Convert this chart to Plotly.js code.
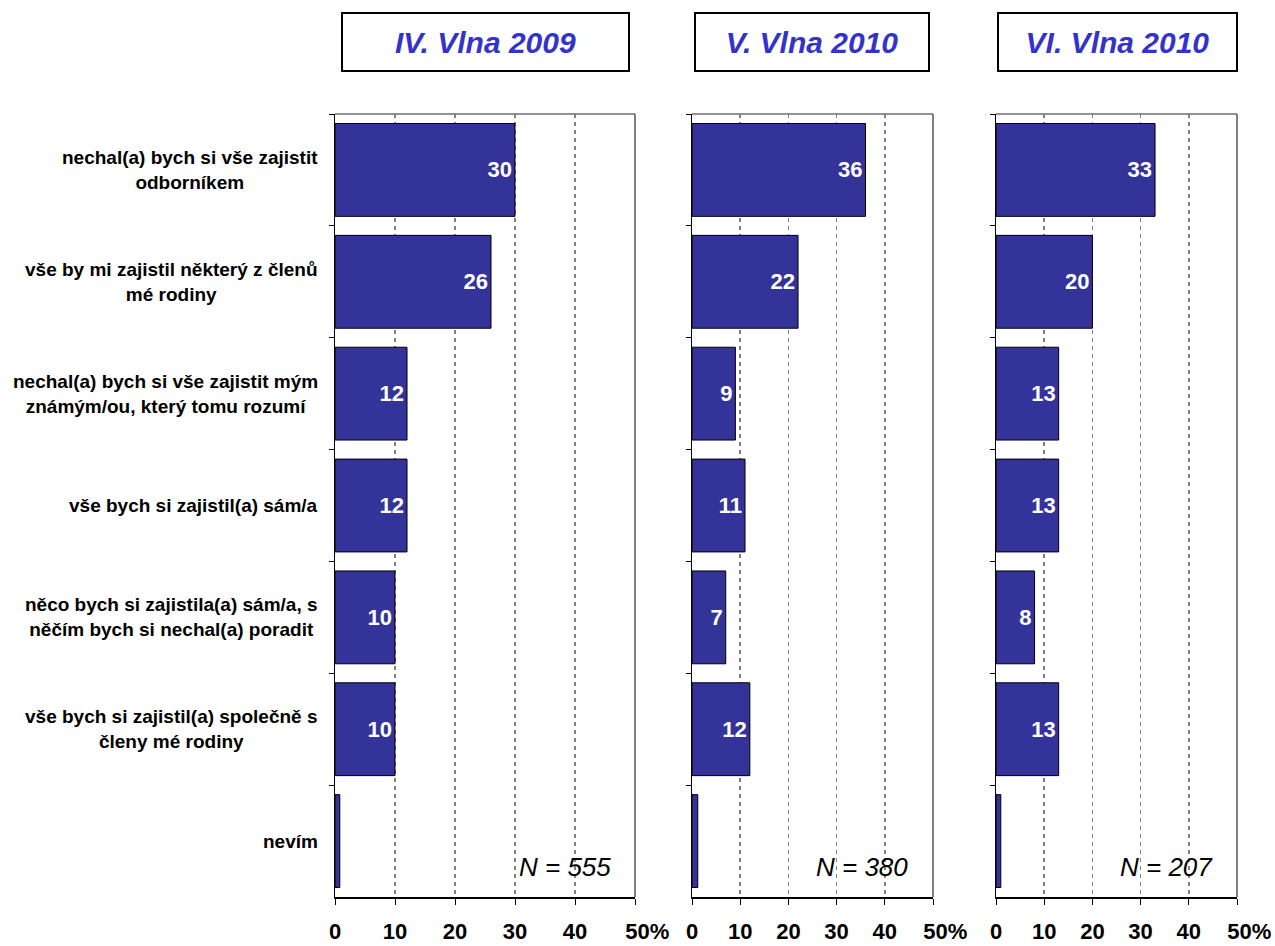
<!DOCTYPE html>
<html>
<head>
<meta charset="utf-8">
<script src="https://cdn.plot.ly/plotly-3.0.1.min.js"></script>
<style>
  html, body { margin: 0; padding: 0; background: #fff; }
  #chart { width: 1275px; height: 946px; }
</style>
</head>
<body>
<div id="chart"></div>
<script>
// Answer categories (top to bottom)
const categories = [
  "nechal(a) bych si vše zajistit<br>odborníkem",
  "vše by mi zajistil některý z členů<br>mé rodiny",
  "nechal(a) bych si vše zajistit mým<br>známým/ou, který tomu rozumí",
  "vše bych si zajistil(a) sám/a",
  "něco bych si zajistila(a) sám/a, s<br>něčím bych si nechal(a) poradit",
  "vše bych si zajistil(a) společně s<br>členy mé rodiny",
  "nevím"
];

// Survey waves
const waveTitles = ["IV. Vlna 2009", "V. Vlna 2010", "VI. Vlna 2010"];
const sampleSizes = ["N = 555", "N = 380", "N = 207"];

// Shares in percent per wave
const wave4 = [30, 26, 12, 12, 10, 10, 0.8];
const wave5 = [36, 22, 9, 11, 7, 12, 1.2];
const wave6 = [33, 20, 13, 13, 8, 13, 1.0];
const waves = [wave4, wave5, wave6];

// Axis ticks (the last label carries the unit, nudged right)
const tickVals = [0, 10, 20, 30, 40, 50];
const tickLabels = ["0", "10", "20", "30", "40", "\u2007\u200750%"];

const FONT = "Liberation Sans, Arial, Helvetica, sans-serif";
const W = 1275, H = 946;
const plotTop = 114, plotBottom = 897;
const plotH = plotBottom - plotTop;

// panel horizontal extents in pixels
const panelPx = [[335, 635], [692, 933], [996, 1237]];
const boxPx = [[341, 630], [694, 930], [997, 1238]];
const nRightPx = [613, 910, 1215];

const px2x = p => p / W;
const py2y = p => (plotBottom - p) / plotH;

const traces = [];
const layout = {
  width: W, height: H,
  margin: { l: 0, r: 0, t: plotTop, b: H - plotBottom, pad: 0 },
  paper_bgcolor: "#fff",
  plot_bgcolor: "#fff",
  showlegend: false,
  bargap: 0.17,
  font: { family: FONT, color: "#000" },
  annotations: [],
  shapes: []
};

waves.forEach((vals, i) => {
  const n = i === 0 ? "" : String(i + 1);
  traces.push({
    type: "bar",
    orientation: "h",
    x: vals,
    y: categories,
    xaxis: "x" + n,
    yaxis: "y" + n,
    marker: { color: "#333399", line: { color: "#000", width: 1 } },
    text: vals.map(v => (v >= 5 ? String(Math.round(v)) : "")),
    textposition: "inside",
    insidetextanchor: "end",
    constraintext: "none",
    textfont: { family: FONT, size: 22, color: "#fff", weight: 700 },
    hoverinfo: "skip",
    cliponaxis: false
  });

  layout["xaxis" + n] = {
    domain: [px2x(panelPx[i][0]), px2x(panelPx[i][1])],
    anchor: "y" + n,
    range: [0, 50],
    tickmode: "array",
    tickvals: tickVals,
    ticktext: tickLabels,
    tickangle: 0,
    ticks: "outside",
    ticklen: 6,
    tickcolor: "#000",
    ticklabelstandoff: 8,
    tickfont: { family: FONT, size: 22, color: "#000", weight: 700 },
    showline: true,
    linecolor: "#000",
    linewidth: 1.5,
    showgrid: true,
    gridcolor: "#808080",
    griddash: "4px,4px",
    gridwidth: 1.5,
    zeroline: false,
    fixedrange: true,
    automargin: false
  };
  layout["yaxis" + n] = {
    domain: [0, 1],
    anchor: "x" + n,
    type: "category",
    autorange: "reversed",
    tickson: "boundaries",
    ticks: "outside",
    ticklen: 5,
    tickcolor: "#000",
    showticklabels: false,
    showline: true,
    linecolor: "#000",
    linewidth: 1.5,
    showgrid: false,
    zeroline: false,
    fixedrange: true,
    automargin: false
  };

  // frame: top and right edges
  layout.shapes.push({
    type: "line", xref: "x" + n + " domain", yref: "y" + n + " domain",
    x0: 0, x1: 1, y0: 1, y1: 1,
    line: { color: "#6e6e6e", width: 1.5 }, layer: "below"
  });
  layout.shapes.push({
    type: "line", xref: "x" + n + " domain", yref: "y" + n + " domain",
    x0: 1, x1: 1, y0: 0, y1: 1,
    line: { color: "#555", width: 1.5 }, layer: "below"
  });

  // boxed wave title
  const bx = boxPx[i];
  layout.annotations.push({
    xref: "paper", yref: "paper",
    x: px2x((bx[0] + bx[1]) / 2), y: py2y(42),
    xanchor: "center", yanchor: "middle",
    text: waveTitles[i],
    showarrow: false,
    width: bx[1] - bx[0] - 4,
    height: 56,
    bordercolor: "#000",
    borderwidth: 2,
    borderpad: 0,
    bgcolor: "#fff",
    font: { family: FONT, size: 30, color: "#3333CC", weight: 700, style: "italic" }
  });

  // sample size
  layout.annotations.push({
    xref: "paper", yref: "paper",
    x: px2x(nRightPx[i]), y: py2y(867),
    xanchor: "right", yanchor: "middle",
    text: sampleSizes[i],
    showarrow: false,
    font: { family: FONT, size: 26, color: "#000", style: "italic" }
  });
});

// category labels left of the first panel
categories.forEach(c => {
  layout.annotations.push({
    xref: "paper", yref: "y",
    x: px2x(320), y: c,
    xanchor: "right", yanchor: "middle",
    align: "center",
    text: c,
    showarrow: false,
    font: { family: FONT, size: 19, color: "#000", weight: 700 }
  });
});

Plotly.newPlot("chart", traces, layout, { displayModeBar: false, staticPlot: true });
</script>
</body>
</html>
